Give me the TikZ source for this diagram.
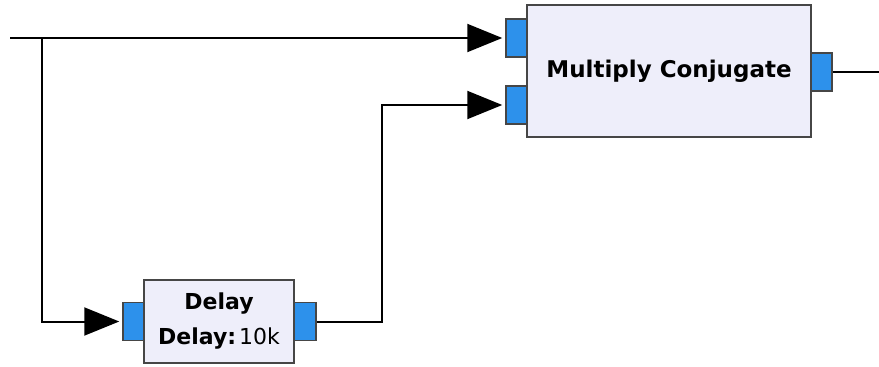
\documentclass[tikz,border=0pt]{standalone}
\usepackage{fontspec}
\setmainfont{DejaVu Sans}
\usepackage{xcolor}
\usepackage{tikz}
\usetikzlibrary{arrows.meta, positioning, calc}
\definecolor{blockfill}{RGB}{238,238,250}
\definecolor{portblue}{RGB}{45,145,235}
\definecolor{edgegray}{RGB}{70,70,70}
\tikzset{block/.style={rectangle, draw=edgegray, fill=blockfill, line width=2pt, inner sep=0pt, align=center},
    port/.style={rectangle, draw=edgegray, fill=portblue, line width=1.5pt, minimum width=21pt, minimum height=38pt, inner sep=0pt},
    wire/.style={line width=2pt, draw=black},
    flow/.style={wire, -{Triangle[length=35pt,width=28pt]}, shorten >=3pt}}

\begin{document}
\begin{tikzpicture}[x=1pt, y=-1pt]
    \useasboundingbox (0,0) rectangle (879,367);
    % blocks
    \node[block, minimum width=284pt, minimum height=132pt, font=\fontsize{23}{27}\selectfont\bfseries] (mult) at (669,71) {Multiply Conjugate};
    \node[block, minimum width=150pt, minimum height=83pt, font=\fontsize{22}{35}\selectfont] (delay) at (219,321.5) {\textbf{Delay}\\\textbf{Delay:}\hspace{3pt}10k};
    % ports
    \node[port] (in1) at (516.5,38) {};
    \node[port] (in2) at (516.5,105) {};
    \node[port] (mout) at (821.5,72) {};
    \node[port] (din) at (133.5,321.5) {};
    \node[port, minimum width=22pt] (dout) at (305,321.5) {};
    % wires
    \coordinate (src) at (10,38);
    \coordinate (split) at (42,38);
    \coordinate (bend) at (382,0);
    \coordinate (sink) at (879,72);
    \draw[flow] (src) -- (in1.west);
    \draw[flow] (split) |- (din.west);
    \draw[flow] (dout.east) -- (dout.east -| bend) |- (in2.west);
    \draw[wire] (mout.east) -- (sink);
\end{tikzpicture}
\end{document}
